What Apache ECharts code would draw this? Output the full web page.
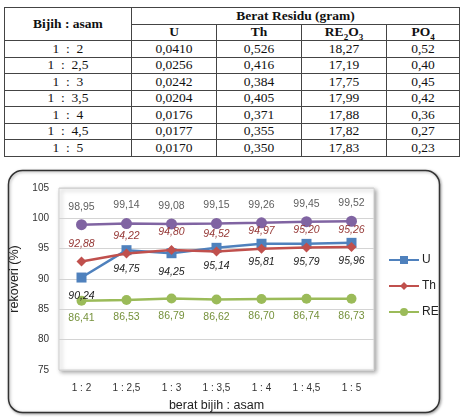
<!DOCTYPE html>
<html>
<head>
<meta charset="utf-8">
<script src="https://cdn.jsdelivr.net/npm/echarts@6/dist/echarts.min.js"></script>
<style>
  html, body { margin: 0; padding: 0; background: #fff; width: 463px; height: 417px; overflow: hidden; }
  #tbl {
    position: absolute; left: 4px; top: 7px; width: 455px;
    border-collapse: collapse; table-layout: fixed;
    font-family: "Liberation Serif", "DejaVu Serif", serif; font-size: 13.5px; color: #111;
  }
  #tbl td, #tbl th { border: 1px solid #444; text-align: center; padding: 0; height: 15.5px; line-height: 14px; }
  #tbl th { font-weight: bold; }
  #tbl sub { font-size: 9px; line-height: 0; }
  #chart { position: absolute; left: 0; top: 165px; width: 463px; height: 252px; }
</style>
</head>
<body>
<table id="tbl"></table>
<div id="chart"></div>
<script>
// table data
const ratioRows = ["1  :  2", "1  :  2,5", "1  :  3", "1  :  3,5", "1  :  4", "1  :  4,5", "1  :  5"];
const residuU = ["0,0410", "0,0256", "0,0242", "0,0204", "0,0176", "0,0177", "0,0170"];
const residuTh = ["0,526", "0,416", "0,384", "0,405", "0,371", "0,355", "0,350"];
const residuRE = ["18,27", "17,19", "17,75", "17,99", "17,88", "17,82", "17,83"];
const residuPO4 = ["0,52", "0,40", "0,45", "0,42", "0,36", "0,27", "0,23"];

// chart data
const categories = ["1 : 2", "1 : 2,5", "1 : 3", "1 : 3,5", "1 : 4", "1 : 4,5", "1 : 5"];
const recU = [90.24, 94.75, 94.25, 95.14, 95.81, 95.79, 95.96];
const recTh = [92.88, 94.22, 94.80, 94.52, 94.97, 95.20, 95.26];
const recRE = [86.41, 86.53, 86.79, 86.62, 86.70, 86.74, 86.73];
const recPurple = [98.95, 99.14, 99.08, 99.15, 99.26, 99.45, 99.52];

function buildTable() {
  const tbl = document.getElementById("tbl");
  let html = '<colgroup><col style="width:127px"><col style="width:85px"><col style="width:85px"><col style="width:85px"><col style="width:73px"></colgroup>';
  html += '<tr><th rowspan="2">Bijih : asam</th><th colspan="4">Berat Residu (gram)</th></tr>';
  html += '<tr><th>U</th><th>Th</th><th>RE<sub>2</sub>O<sub>3</sub></th><th>PO<sub>4</sub></th></tr>';
  for (let i = 0; i < ratioRows.length; i++) {
    html += '<tr><td style="white-space:pre">' + ratioRows[i] + '</td><td>' + residuU[i] + '</td><td>' +
      residuTh[i] + '</td><td>' + residuRE[i] + '</td><td>' + residuPO4[i] + '</td></tr>';
  }
  tbl.innerHTML = html;
}
buildTable();

const fmt = (p) => p.value.toFixed(2).replace(".", ",");
const FONT = "Liberation Sans, Arial, sans-serif";

const chart = echarts.init(document.getElementById("chart"));
chart.setOption({
  animation: false,
  textStyle: { fontFamily: FONT },
  graphic: [
    {
      type: "rect",
      shape: { x: 8.5, y: 5.5, width: 431, height: 242, r: 14 },
      style: { fill: "#fff", stroke: "#333", lineWidth: 1.5, shadowBlur: 3, shadowColor: "rgba(0,0,0,0.35)", shadowOffsetX: 1, shadowOffsetY: 1 },
      z: -10,
      silent: true,
    },
  ],
  grid: {
    left: 58, right: 89, top: 23, bottom: 43,
    show: true,
    backgroundColor: "#fff",
    borderColor: "#d0d0d0",
    borderWidth: 1,
    shadowBlur: 4,
    shadowColor: "rgba(0,0,0,0.35)",
    shadowOffsetX: 2,
    shadowOffsetY: 2,
  },
  legend: {
    orient: "vertical",
    left: 383,
    top: 84,
    itemWidth: 30,
    itemHeight: 10,
    itemGap: 14,
    data: ["U", "Th", "RE"],
    textStyle: { fontSize: 12, color: "#222", fontFamily: FONT, padding: [0, 0, 0, -2] },
  },
  xAxis: {
    type: "category",
    data: categories,
    boundaryGap: true,
    name: "berat bijih : asam",
    nameLocation: "middle",
    nameGap: 29,
    nameTextStyle: { fontSize: 12.5, color: "#222" },
    axisLine: { show: false },
    axisTick: { show: false },
    axisLabel: { fontSize: 10, color: "#333", margin: 13 },
  },
  yAxis: {
    type: "value",
    min: 75, max: 105, interval: 5,
    name: "rekoveri (%)",
    nameLocation: "middle",
    nameGap: 38,
    nameTextStyle: { fontSize: 12.5, color: "#222" },
    axisLine: { show: false },
    axisTick: { show: false },
    axisLabel: { fontSize: 10, color: "#333", margin: 10 },
    splitLine: { lineStyle: { color: "#d4d4d4", width: 1 } },
  },
  series: [
    {
      name: "P",
      type: "line",
      data: recPurple,
      symbol: "circle",
      symbolSize: 11,
      lineStyle: { color: "#8064a2", width: 2.5 },
      itemStyle: { color: "#8064a2" },
      label: { show: true, position: "top", distance: 7, formatter: fmt, fontSize: 10.5, color: "#606060" },
      z: 3,
    },
    {
      name: "U",
      type: "line",
      data: recU,
      symbol: "rect",
      symbolSize: 10,
      lineStyle: { color: "#4f81bd", width: 2.5 },
      itemStyle: { color: "#4f81bd" },
      label: { show: true, position: "bottom", distance: 8, formatter: fmt, fontSize: 10.5, fontStyle: "italic", color: "#222" },
      z: 4,
    },
    {
      name: "Th",
      type: "line",
      data: recTh,
      symbol: "diamond",
      symbolSize: 10,
      lineStyle: { color: "#c0504d", width: 2.5 },
      itemStyle: { color: "#c0504d" },
      label: { show: true, position: "top", distance: 7, formatter: fmt, fontSize: 10.5, fontStyle: "italic", color: "#953735" },
      z: 5,
    },
    {
      name: "RE",
      type: "line",
      data: recRE,
      symbol: "circle",
      symbolSize: 10,
      lineStyle: { color: "#9bbb59", width: 2.5 },
      itemStyle: { color: "#9bbb59" },
      label: { show: true, position: "bottom", distance: 7, formatter: fmt, fontSize: 10.5, color: "#76923c" },
      z: 3,
    },
  ],
});
</script>
</body>
</html>
